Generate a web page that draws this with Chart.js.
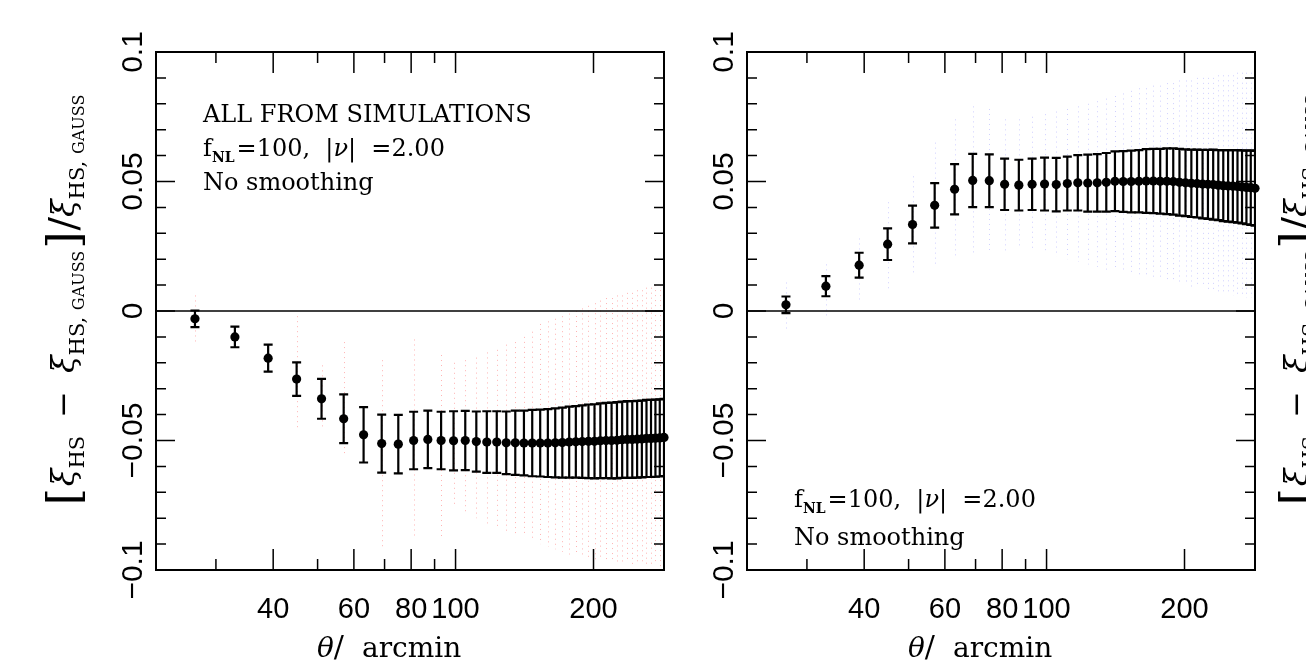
<!DOCTYPE html>
<html>
<head>
<meta charset="utf-8">
<script src="https://cdn.jsdelivr.net/npm/chart.js@4.4.1/dist/chart.umd.min.js"></script>
<style>
  html, body { margin: 0; padding: 0; background: #fff; overflow: hidden; width: 1306px; height: 665px; }
  canvas { position: absolute; top: 0; }
</style>
</head>
<body>
<canvas id="panel-left" width="700" height="665" style="left:0"></canvas>
<canvas id="panel-right" width="700" height="665" style="left:591px"></canvas>
<canvas id="panel-next" width="700" height="665" style="left:1233px"></canvas>
<script>
// angular bins, arcmin
const theta = [27, 33, 39, 45, 51, 57, 63, 69, 75, 81, 87, 93, 99, 105, 111, 117, 123, 129, 135, 141, 147, 153,
  159, 165, 171, 177, 183, 189, 195, 201, 207, 213, 219, 225, 231, 237, 243, 249, 255, 261, 267, 273, 279, 285]

// left panel: mean of simulations and 1-sigma
const leftMean = [-0.0030, -0.0100, -0.0182, -0.0263, -0.0339, -0.0416, -0.0478, -0.0512, -0.0514, -0.0500,
  -0.0496, -0.0500, -0.0501, -0.0500, -0.0504, -0.0506, -0.0506, -0.0509, -0.0509, -0.0510,
  -0.0510, -0.0510, -0.0510, -0.0509, -0.0508, -0.0506, -0.0505, -0.0504, -0.0503, -0.0503,
  -0.0501, -0.0500, -0.0500, -0.0499, -0.0497, -0.0496, -0.0496, -0.0495, -0.0494, -0.0492,
  -0.0492, -0.0491, -0.0490, -0.0488]
const leftErr = [0.0032, 0.0040, 0.0052, 0.0065, 0.0077, 0.0094, 0.0107, 0.0112, 0.0113, 0.0111,
  0.0111, 0.0111, 0.0114, 0.0114, 0.0116, 0.0119, 0.0119, 0.0121, 0.0124, 0.0125,
  0.0128, 0.0129, 0.0131, 0.0133, 0.0135, 0.0137, 0.0138, 0.0140, 0.0142, 0.0143,
  0.0144, 0.0145, 0.0146, 0.0147, 0.0147, 0.0148, 0.0148, 0.0148, 0.0148, 0.0149,
  0.0149, 0.0149, 0.0149, 0.0149]
// extent of the individual realisations (red dots)
const leftSpreadLo = [-0.012, null, null, -0.046, -0.046, -0.055, null, -0.092, null, -0.088,
  null, -0.088, -0.075, -0.078, -0.080, -0.082, -0.083, -0.085, -0.086, -0.087,
  -0.088, -0.090, -0.091, -0.092, -0.093, -0.094, -0.094, -0.095, -0.095, -0.096,
  -0.096, -0.096, -0.097, -0.097, -0.097, -0.097, -0.098, -0.098, -0.098, -0.098,
  -0.098, -0.098, -0.099, -0.099]
const leftSpreadHi = [0.006, null, null, -0.002, -0.021, -0.012, null, -0.019, null, -0.011,
  null, -0.017, -0.020, -0.019, -0.018, -0.016, -0.015, -0.013, -0.012, -0.010,
  -0.008, -0.005, -0.004, -0.003, -0.002, -0.001, 0.000, 0.001, 0.002, 0.003,
  0.004, 0.005, 0.005, 0.006, 0.006, 0.007, 0.007, 0.008, 0.008, 0.009,
  0.009, 0.010, 0.010, 0.011]

// right panel
const rightMean = [0.0024, 0.0096, 0.0177, 0.0258, 0.0334, 0.0408, 0.0470, 0.0504, 0.0503, 0.0489,
  0.0486, 0.0489, 0.0490, 0.0488, 0.0492, 0.0495, 0.0494, 0.0495, 0.0497, 0.0501,
  0.0500, 0.0500, 0.0501, 0.0502, 0.0502, 0.0501, 0.0501, 0.0500, 0.0497, 0.0495,
  0.0493, 0.0492, 0.0490, 0.0489, 0.0488, 0.0486, 0.0484, 0.0483, 0.0482, 0.0481,
  0.0479, 0.0477, 0.0476, 0.0474]
const rightErr = [0.0032, 0.0039, 0.0048, 0.0061, 0.0073, 0.0086, 0.0097, 0.0103, 0.0102, 0.0099,
  0.0098, 0.0099, 0.0102, 0.0103, 0.0104, 0.0107, 0.0110, 0.0111, 0.0113, 0.0115,
  0.0117, 0.0119, 0.0120, 0.0123, 0.0124, 0.0125, 0.0127, 0.0128, 0.0129, 0.0129,
  0.0130, 0.0131, 0.0132, 0.0133, 0.0135, 0.0135, 0.0137, 0.0138, 0.0139, 0.0140,
  0.0141, 0.0142, 0.0144, 0.0144]
const rightSpreadLo = [-0.008, -0.002, 0.004, 0.008, 0.014, 0.018, 0.020, 0.022, 0.023, 0.023,
  0.024, 0.023, 0.022, 0.021, 0.020, 0.019, 0.018, 0.017, 0.016, 0.016,
  0.015, 0.014, 0.013, 0.013, 0.012, 0.012, 0.011, 0.011, 0.010, 0.010,
  0.009, 0.009, 0.009, 0.008, 0.008, 0.007, 0.007, 0.007, 0.006, 0.006,
  0.006, 0.005, 0.005, 0.005]
const rightSpreadHi = [0.011, 0.018, 0.028, 0.042, 0.052, 0.065, 0.074, 0.079, 0.078, 0.074,
  0.074, 0.075, 0.076, 0.077, 0.078, 0.079, 0.080, 0.081, 0.082, 0.083,
  0.084, 0.085, 0.086, 0.086, 0.087, 0.087, 0.088, 0.088, 0.089, 0.089,
  0.089, 0.090, 0.090, 0.090, 0.090, 0.091, 0.091, 0.091, 0.091, 0.092,
  0.092, 0.092, 0.092, 0.092]

// axes
const yTickValues = [-0.1, -0.05, 0, 0.05, 0.1]
const yTickLabels = ['\u22120.1', '\u22120.05', '0', '0.05', '0.1']
const xTickValues = [40, 60, 80, 100, 200]
const xTickLabels = ['40', '60', '80', '100', '200']
const xMinorTicks = [30, 50, 70, 90]

const sans = '"Liberation Sans", Arial, sans-serif'
const serif = '"DejaVu Serif", serif'

const allSimsPieces = [{ text: 'ALL FROM SIMULATIONS', font: '24px ' + serif }]
const fnlPieces = [
  { text: 'f', font: '24px ' + serif },
  { text: 'NL', font: 'bold 14px ' + serif, dy: 6, gap: 2 },
  { text: '=100,  |', font: '24px ' + serif },
  { text: '\u03bd', font: 'italic 24px ' + serif },
  { text: '|  =2.00', font: '24px ' + serif }
]
const smoothPieces = [{ text: 'No smoothing', font: '24px ' + serif }]
const xTitlePieces = [
  { text: '\u03b8', font: 'italic 28px ' + serif },
  { text: '/', font: '30px ' + serif, gap: 18 },
  { text: 'arcmin', font: '28px ' + serif }
]
const yTitlePieces = [
  { text: '[', font: '44px ' + serif, dy: 5, gap: 2 },
  { text: '\u03be', font: 'italic 32px ' + serif },
  { text: 'HS', font: '21px ' + serif, dy: 10, gap: 18 },
  { text: '\u2212', font: '32px ' + serif, gap: 18 },
  { text: '\u03be', font: 'italic 32px ' + serif },
  { text: 'HS, ', font: '21px ' + serif, dy: 10 },
  { text: 'GAUSS', font: '16px ' + serif, dy: 10, gap: 2 },
  { text: ']', font: '44px ' + serif, dy: 5, gap: 1 },
  { text: '/', font: '40px ' + serif, dy: 3 },
  { text: '\u03be', font: 'italic 32px ' + serif },
  { text: 'HS, ', font: '21px ' + serif, dy: 10 },
  { text: 'GAUSS', font: '16px ' + serif, dy: 10 }
]

function piecesWidth(ctx, pieces) {
  let w = 0
  for (const p of pieces) {
    ctx.font = p.font
    w += ctx.measureText(p.text).width + (p.gap || 0)
  }
  return w
}

function drawPieces(ctx, pieces, x, y) {
  for (const p of pieces) {
    ctx.font = p.font
    ctx.fillText(p.text, x, y + (p.dy || 0))
    x += ctx.measureText(p.text).width + (p.gap || 0)
  }
}

const panelPlugin = {
  id: 'panel',
  beforeDatasetsDraw(chart, args, opts) {
    const { ctx, chartArea: a } = chart
    const x = chart.scales.x
    const y = chart.scales.y
    ctx.save()
    ctx.beginPath()
    ctx.rect(a.left, a.top, a.right - a.left, a.bottom - a.top)
    ctx.clip()

    // individual realisations as faint dotted columns
    if (opts.spreadLo) {
      ctx.strokeStyle = opts.spreadColor
      ctx.lineWidth = 1
      ctx.setLineDash([1, 4])
      opts.spreadLo.forEach((lo, i) => {
        const hi = opts.spreadHi[i]
        if (lo === null || hi === null) return
        const px = Math.round(x.getPixelForValue(theta[i])) + 0.5
        ctx.beginPath()
        ctx.moveTo(px, y.getPixelForValue(hi))
        ctx.lineTo(px, y.getPixelForValue(lo))
        ctx.stroke()
      })
      ctx.setLineDash([])
    }

    // zero line
    const y0 = y.getPixelForValue(0)
    ctx.strokeStyle = '#000'
    ctx.lineWidth = 1.5
    ctx.beginPath()
    ctx.moveTo(a.left, y0)
    ctx.lineTo(a.right, y0)
    ctx.stroke()

    // error bars
    if (opts.err) {
      const pts = chart.data.datasets[0].data
      ctx.lineWidth = 2.2
      pts.forEach((p, i) => {
        const px = x.getPixelForValue(p.x)
        const top = y.getPixelForValue(p.y + opts.err[i])
        const bot = y.getPixelForValue(p.y - opts.err[i])
        ctx.beginPath()
        ctx.moveTo(px, top)
        ctx.lineTo(px, bot)
        ctx.moveTo(px - 4.5, top)
        ctx.lineTo(px + 4.5, top)
        ctx.moveTo(px - 4.5, bot)
        ctx.lineTo(px + 4.5, bot)
        ctx.stroke()
      })
    }
    ctx.restore()
  },
  afterDatasetsDraw(chart, args, opts) {
    const { ctx, chartArea: a } = chart
    const x = chart.scales.x
    const y = chart.scales.y
    ctx.save()
    ctx.strokeStyle = '#000'
    ctx.fillStyle = '#000'

    // frame
    ctx.lineWidth = 2
    ctx.strokeRect(a.left, a.top, a.right - a.left, a.bottom - a.top)

    // ticks, all pointing inwards
    ctx.lineWidth = 1.5
    ctx.beginPath()
    for (let k = -9; k <= 9; k++) {
      const py = y.getPixelForValue(k / 100)
      const len = k % 5 === 0 ? 19 : 10
      ctx.moveTo(a.left, py)
      ctx.lineTo(a.left + len, py)
      ctx.moveTo(a.right, py)
      ctx.lineTo(a.right - len, py)
    }
    xTickValues.forEach(v => {
      const px = x.getPixelForValue(v)
      ctx.moveTo(px, a.bottom)
      ctx.lineTo(px, a.bottom - 21)
      ctx.moveTo(px, a.top)
      ctx.lineTo(px, a.top + 21)
    })
    xMinorTicks.forEach(v => {
      const px = x.getPixelForValue(v)
      ctx.moveTo(px, a.bottom)
      ctx.lineTo(px, a.bottom - 11)
      ctx.moveTo(px, a.top)
      ctx.lineTo(px, a.top + 11)
    })
    ctx.stroke()

    // tick labels
    ctx.font = '29px ' + sans
    ctx.textAlign = 'center'
    ctx.textBaseline = 'alphabetic'
    xTickValues.forEach((v, i) => {
      ctx.fillText(xTickLabels[i], x.getPixelForValue(v), a.bottom + 48)
    })
    ctx.font = '30px ' + sans
    yTickValues.forEach((v, i) => {
      ctx.save()
      ctx.translate(a.left - 14, y.getPixelForValue(v))
      ctx.rotate(-Math.PI / 2)
      ctx.fillText(yTickLabels[i], 0, 0)
      ctx.restore()
    })

    // axis titles
    ctx.textAlign = 'left'
    drawPieces(ctx, xTitlePieces, a.left + 161, a.bottom + 87)
    if (opts.yTitle) {
      const w = piecesWidth(ctx, yTitlePieces)
      ctx.save()
      ctx.translate(a.left - 82, a.top + 248)
      ctx.rotate(-Math.PI / 2)
      drawPieces(ctx, yTitlePieces, -w / 2, 0)
      ctx.restore()
    }

    // notes inside the panel
    ;(opts.notes || []).forEach(n => drawPieces(ctx, n.pieces, a.left + 47, a.top + n.dy))
    ctx.restore()
  }
}

function makePanel(id, mean, err, spreadLo, spreadHi, spreadColor, notes, yTitle) {
  const points = mean ? theta.map((t, i) => ({ x: t, y: mean[i] })) : []
  return new Chart(document.getElementById(id), {
    type: 'scatter',
    data: {
      datasets: [
        {
          data: points,
          pointRadius: 4.6,
          pointBackgroundColor: '#000',
          pointBorderWidth: 0,
          showLine: false,
          clip: false
        }
      ]
    },
    options: {
      responsive: false,
      animation: false,
      events: [],
      layout: { padding: { left: 156, right: 36, top: 52, bottom: 95 } },
      scales: {
        x: { type: 'logarithmic', min: 22.2, max: 285, display: false },
        y: { type: 'linear', min: -0.1, max: 0.1, display: false }
      },
      plugins: {
        legend: { display: false },
        tooltip: { enabled: false },
        panel: { err, spreadLo, spreadHi, spreadColor, notes, yTitle }
      }
    },
    plugins: [panelPlugin]
  })
}

makePanel('panel-left', leftMean, leftErr, leftSpreadLo, leftSpreadHi, 'rgba(255, 0, 0, 0.3)', [
  { pieces: allSimsPieces, dy: 70 },
  { pieces: fnlPieces, dy: 104 },
  { pieces: smoothPieces, dy: 138 }
], true)

makePanel('panel-right', rightMean, rightErr, rightSpreadLo, rightSpreadHi, 'rgba(40, 40, 255, 0.22)', [
  { pieces: fnlPieces, dy: 455 },
  { pieces: smoothPieces, dy: 493 }
], false)

// next figure panel, only its axis title reaches into the window
makePanel('panel-next', null, null, null, null, null, [], true)
</script>
</body>
</html>
